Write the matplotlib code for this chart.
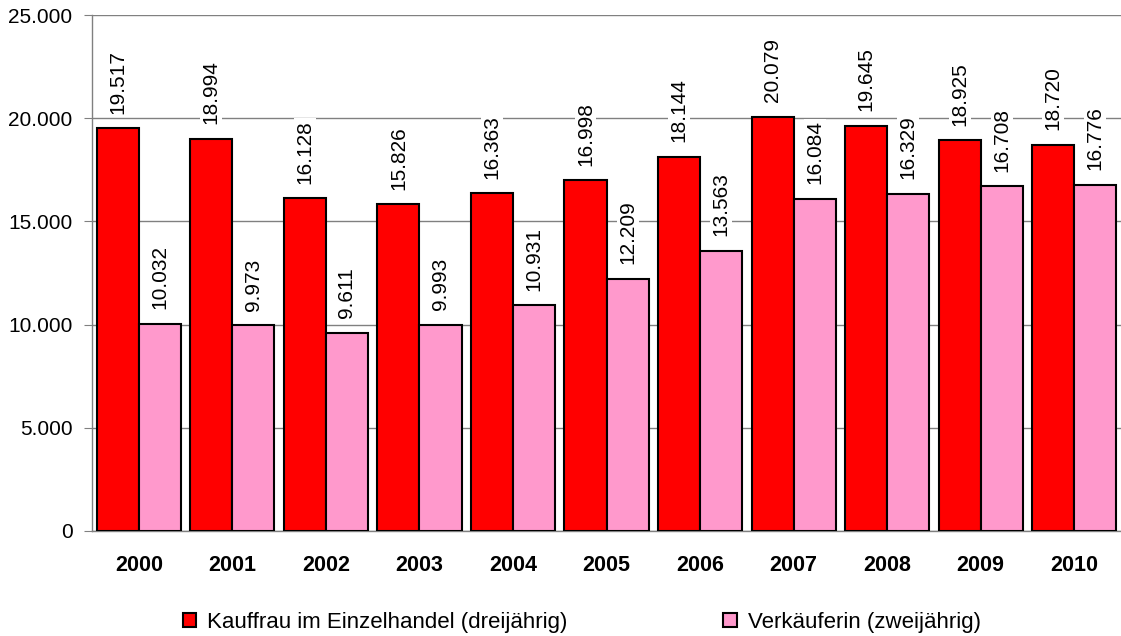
import numpy as np
import matplotlib.pyplot as plt
from matplotlib.ticker import FuncFormatter

plt.rcParams['font.family'] = ['Liberation Sans', 'DejaVu Sans']

years = ['2000', '2001', '2002', '2003', '2004', '2005', '2006', '2007', '2008', '2009', '2010']
kauffrau = [19517, 18994, 16128, 15826, 16363, 16998, 18144, 20079, 19645, 18925, 18720]
verkaeuferin = [10032, 9973, 9611, 9993, 10931, 12209, 13563, 16084, 16329, 16708, 16776]
series_names = ['Kauffrau im Einzelhandel (dreijährig)', 'Verkäuferin (zweijährig)']


def de_fmt(v, pos=None):
    return f'{int(v):,}'.replace(',', '.')


fig = plt.figure(figsize=(11.21, 6.36), dpi=100)
ax = fig.add_axes([0.0821, 0.1651, 0.9179, 0.8113])

x = np.arange(len(years))
w = 0.45
b1 = ax.bar(x - w / 2, kauffrau, w, color='#FF0000', edgecolor='black', linewidth=1.5,
            label=series_names[0], zorder=3)
b2 = ax.bar(x + w / 2, verkaeuferin, w, color='#FF99CC', edgecolor='black', linewidth=1.5,
            label=series_names[1], zorder=3)

for bars, vals in ((b1, kauffrau), (b2, verkaeuferin)):
    for r, v in zip(bars, vals):
        ax.annotate(de_fmt(v), (r.get_x() + r.get_width() / 2, v),
                    xytext=(0, 10.5), textcoords='offset points',
                    rotation=90, ha='center', va='bottom', fontsize=15,
                    bbox=dict(facecolor='white', edgecolor='none', pad=1), zorder=4)

ax.set_xlim(-0.5, len(years) - 0.5)
ax.set_ylim(0, 25000)
ax.set_yticks(np.arange(0, 25001, 5000))
ax.yaxis.set_major_formatter(FuncFormatter(de_fmt))
ax.yaxis.grid(True, color='#808080', linewidth=1, zorder=0)
ax.set_xticks(x)
ax.set_xticklabels(years, fontweight='bold', fontsize=15.5)
ax.tick_params(axis='x', length=0, pad=17)
ax.tick_params(axis='y', length=6, color='#808080', labelsize=15, pad=8)

for s in ('top', 'right'):
    ax.spines[s].set_visible(False)
ax.spines['left'].set_color('#808080')
ax.spines['bottom'].set_color('#808080')
ax.spines['left'].set_linewidth(1)
ax.spines['bottom'].set_linewidth(1)

fig.legend(handles=[b1, b2], loc='center', bbox_to_anchor=(0.519, 0.022), ncol=2,
           frameon=False, fontsize=16, handlelength=0.6, handleheight=0.6,
           handletextpad=0.5, columnspacing=7)

plt.savefig('out.png', dpi=100)
